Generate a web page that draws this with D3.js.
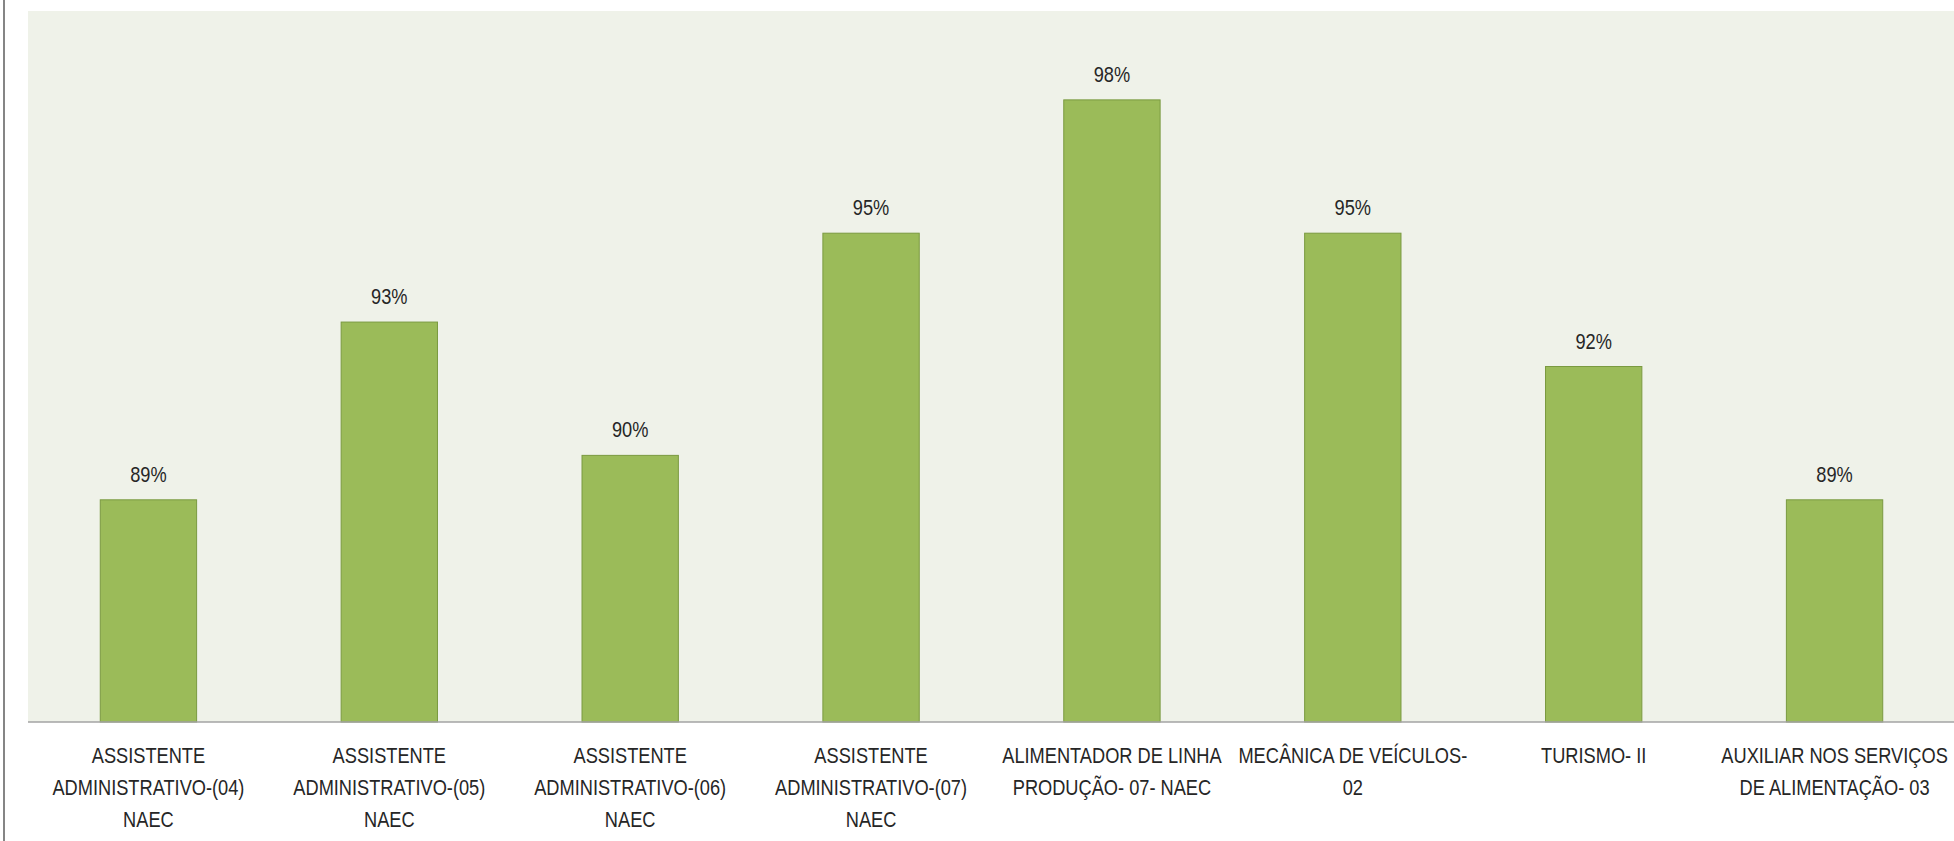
<!DOCTYPE html>
<html>
<head>
<meta charset="utf-8">
<script src="https://cdn.jsdelivr.net/npm/d3@7"></script>
<style>
  html, body { margin: 0; padding: 0; background: #ffffff; }
  svg { display: block; }
  text { font-family: "Liberation Sans", Arial, sans-serif; fill: #262626; }
</style>
</head>
<body>
<svg id="chart" width="1954" height="841"></svg>
<script>
const categories = [
  "ASSISTENTE\nADMINISTRATIVO-(04)\nNAEC",
  "ASSISTENTE\nADMINISTRATIVO-(05)\nNAEC",
  "ASSISTENTE\nADMINISTRATIVO-(06)\nNAEC",
  "ASSISTENTE\nADMINISTRATIVO-(07)\nNAEC",
  "ALIMENTADOR DE LINHA\nPRODUÇÃO- 07- NAEC",
  "MECÂNICA DE VEÍCULOS-\n02",
  "TURISMO- II",
  "AUXILIAR NOS SERVIÇOS\nDE ALIMENTAÇÃO- 03"
];
const values = [89, 93, 90, 95, 98, 95, 92, 89];
const yDomain = [84, 100];

const svg = d3.select("#chart");
const W = 1954, H = 841;
const plot = { left: 28, right: 1955, top: 11, bottom: 722 };
const narrow = 0.81; // horizontal condensing to mimic a narrow face

// outer left border line
svg.append("line")
  .attr("x1", 4).attr("x2", 4).attr("y1", 0).attr("y2", H)
  .attr("stroke", "#858585").attr("stroke-width", 2);

// plot background
svg.append("rect")
  .attr("x", plot.left).attr("y", plot.top)
  .attr("width", plot.right - plot.left).attr("height", plot.bottom - plot.top)
  .attr("fill", "#eff2e9");

const x = d3.scaleBand()
  .domain(categories)
  .range([plot.left, plot.right])
  .paddingInner(0.6).paddingOuter(0.3);

const y = d3.scaleLinear().domain(yDomain).range([plot.bottom, plot.top]);

// bars
svg.append("g").selectAll("rect")
  .data(values)
  .join("rect")
  .attr("x", (d, i) => x(categories[i]))
  .attr("y", d => y(d))
  .attr("width", x.bandwidth())
  .attr("height", d => y(yDomain[0]) - y(d))
  .attr("fill", "#9bbb59")
  .attr("stroke", "#7a9a40")
  .attr("stroke-width", 1);

// value labels
svg.append("g").selectAll("g")
  .data(values)
  .join("g")
  .attr("transform", (d, i) => `translate(${x(categories[i]) + x.bandwidth() / 2},${y(d) - 18}) scale(${narrow},1)`)
  .append("text")
  .attr("text-anchor", "middle")
  .attr("font-size", 22.5)
  .text(d => d + "%");

// x axis
const xAxis = d3.axisBottom(x).tickSize(0).tickFormat("");
const gx = svg.append("g")
  .attr("transform", `translate(0,${plot.bottom})`)
  .call(xAxis);
gx.select(".domain").attr("stroke", "#a3a3a3").attr("stroke-width", 1.5)
  .attr("d", `M${plot.left},0H${W}`);

gx.selectAll(".tick").each(function(d) {
  const t = d3.select(this).append("g")
    .attr("transform", `scale(${narrow},1)`)
    .append("text")
    .attr("text-anchor", "middle")
    .attr("font-size", 22.5)
    .attr("fill", "#262626");
  d.split("\n").forEach((line, i) => {
    t.append("tspan").attr("x", 0).attr("y", 41 + i * 32).text(line);
  });
});
gx.selectAll(".tick line").remove();
</script>
</body>
</html>
